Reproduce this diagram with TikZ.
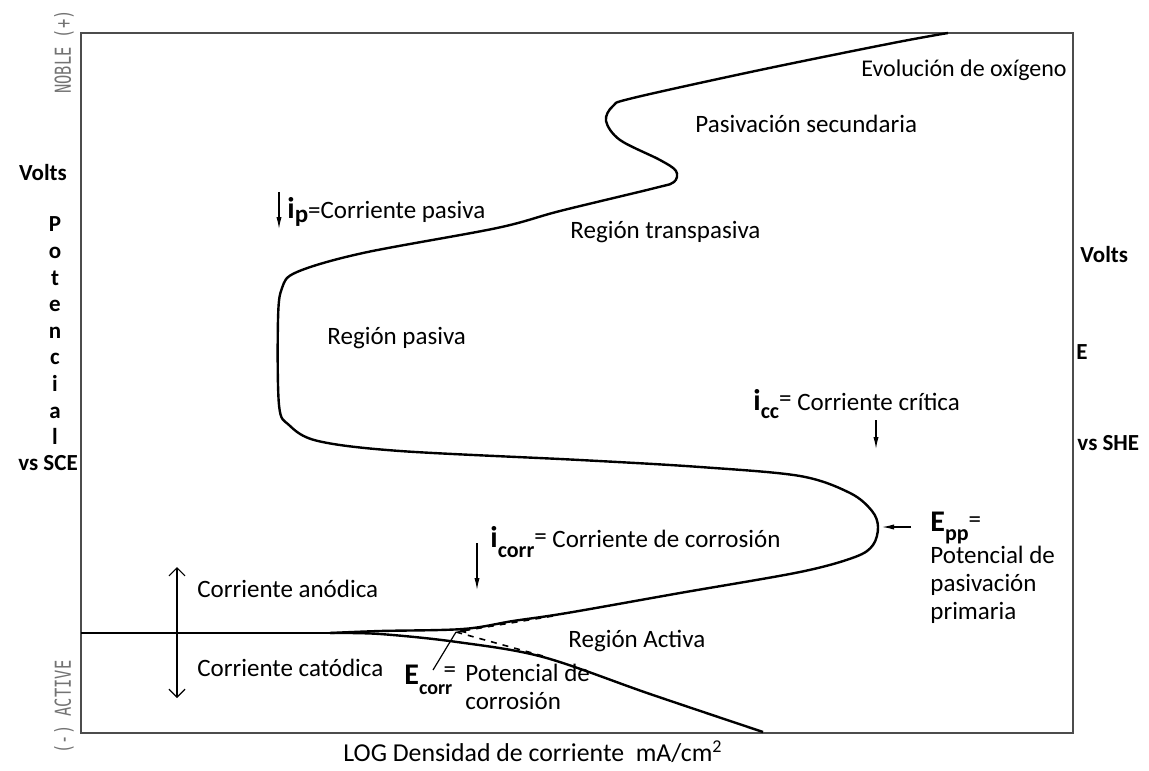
\documentclass[tikz,border=0pt]{standalone}
\usepackage{fontspec}
\setmainfont{Carlito}
\newfontfamily\edgefont{DejaVu Sans Mono}[FakeStretch=0.7]
\usetikzlibrary{positioning}
\usetikzlibrary{arrows.meta}

\begin{document}
\begin{tikzpicture}[x=0.5pt,y=-0.5pt,
  font=\fontsize{12.5}{14}\selectfont,
  curve/.style={line width=1.2pt,black},
  frame/.style={line width=0.8pt,black!70},
  arr/.style={-{Latex[length=6pt,width=2.6pt]},line width=0.6pt},
  lbl/.style={anchor=west,inner sep=0pt},
  side/.style={inner sep=0pt,align=center,font=\fontsize{11.5}{13.3}\selectfont\bfseries},
  edge/.style={rotate=90,inner sep=0pt,text=black!55,font=\edgefont\fontsize{11}{11}\selectfont}]
 \useasboundingbox (0,0) rectangle (1149,770);
 \draw[frame] (81,33) rectangle (1073,733);
 % axis labels
 \node[edge] (noble) at (64,52) {NOBLE (+)};
 \node[edge] (active) at (64,707) {(-) ACTIVE};
 \node[side] (voltsL) at (43,173) {Volts};
 \node[side] (pot) [below=17.5pt of voltsL,xshift=6pt] {P\\o\\t\\e\\n\\c\\i\\a\\l};
 \node[side] (sce) at (48,463) {vs SCE};
 \node[side,anchor=west] (voltsR) at (1080,255) {Volts};
 \node[side,anchor=west] (eR) at (1076,352) {E};
 \node[side,anchor=west] (she) at (1077,443) {vs SHE};
 \node[lbl,font=\fontsize{12.9}{15}\selectfont] (xlab) at (343,752) {LOG Densidad de corriente\ \ mA/cm\textsuperscript{2}};
 % curve
 \coordinate (split) at (330,633);
 \coordinate (ecorr) at (456,632);
 \draw[curve] (81,633) -- (split);
 \draw[curve] plot[smooth,tension=0.55] coordinates {(split) (380,631) (463,629) (513,621)
   (567,613) (680,593) (800,572) (855,557) (873,545) (878,527) (872,511) (850,493)
   (800,476) (700,467) (580,460) (400,451) (318,441) (289,425) (279,405) (278,320)
   (282,288) (297,272) (363,253) (497,228) (560,211) (655,188) (674,182) (676,171)
   (660,160) (620,140) (606,121) (613,106) (633,98) (760,70) (893,43) (948,33)};
 \draw[curve] plot[smooth,tension=0.55] coordinates {(split) (380,634) (457,642)
   (543,657) (650,694) (763,732)};
 % tafel lines
 \coordinate (tafA) at (553,616);
 \coordinate (tafC) at (543,656);
 \draw[dashed,line width=0.8pt,-{Latex[length=5pt,width=3pt]}] (tafA) -- (ecorr);
 \draw[dashed,line width=0.8pt] (tafC) -- (ecorr);
 % labels
 \node[lbl,font=\fontsize{12}{14}\selectfont] (evol) at (861,70) {Evolución de oxígeno};
 \node[lbl] (pasec) at (695,124) {Pasivación secundaria};
 \node[lbl] (trans) at (570,232) {Región transpasiva};
 \node[lbl] (ip) at (287,212) {{\fontsize{15}{15}\selectfont\bfseries i}\raisebox{-0.4ex}{\bfseries p}=Corriente pasiva};
 \coordinate (ipA) at (279,192);
 \coordinate (ipB) at (279,229);
 \draw[arr] (ipA) -- (ipB);
 \node[lbl] (pasiva) at (327,338) {Región pasiva};
 \node[lbl] (icc) at (753,404) {{\fontsize{15}{15}\selectfont\bfseries i}\raisebox{-0.7ex}{\bfseries\fontsize{11}{11}\selectfont cc}\raisebox{0.3ex}{=} Corriente crítica};
 \coordinate (iccA) at (876,420);
 \coordinate (iccB) at (876,449);
 \draw[arr] (iccA) -- (iccB);
 \coordinate (nose) at (882,527);
 \coordinate (eppA) at (911,527);
 \draw[arr] (eppA) -- (nose);
 \node[lbl,anchor=north west,align=left] (epp) at (930,512) {{\fontsize{15}{15}\selectfont\bfseries E}\raisebox{-0.7ex}{\bfseries\fontsize{11}{11}\selectfont pp}\raisebox{0.4ex}{=}\\Potencial de\\pasivación\\primaria};
 \node[lbl] (icorr) at (490,542) {{\fontsize{15}{15}\selectfont\bfseries i}\raisebox{-0.8ex}{\bfseries\fontsize{11}{11}\selectfont corr}\raisebox{0.3ex}{=} Corriente de corrosión};
 \coordinate (icorrA) at (477,543);
 \coordinate (icorrB) at (477,590);
 \draw[arr] (icorrA) -- (icorrB);
 \coordinate (anoT) at (177,567);
 \coordinate (catB) at (177,698);
 \draw[{Straight Barb[length=4pt,width=8pt]}-{Straight Barb[length=4pt,width=8pt]},line width=0.6pt] (anoT) -- (catB);
 \node[lbl] (anod) at (197,589) {Corriente anódica};
 \node[lbl] (catod) at (197,668) {Corriente catódica};
 \node[lbl] (activa) at (568,641) {Región Activa};
 \node[lbl] (ecl) at (404,680) {{\fontsize{15}{15}\selectfont\bfseries E}\raisebox{-0.8ex}{\bfseries\fontsize{10}{10}\selectfont corr}\hspace{-0.35em}\raisebox{0.6ex}{=}};
 \node[lbl,anchor=north west,align=left] (ectxt) at (465,664) {Potencial de\\corrosión};
 \coordinate (ecLead) at (433,670);
 \draw[line width=0.6pt] (ecLead) -- (ecorr);
\end{tikzpicture}
\end{document}
